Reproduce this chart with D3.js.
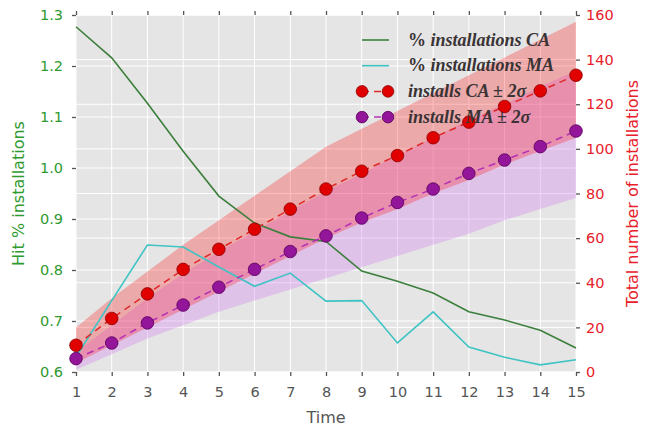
<!DOCTYPE html>
<html>
<head>
<meta charset="utf-8">
<script src="https://cdn.jsdelivr.net/npm/d3@7"></script>
<style>
  body { margin: 0; background: #fff; }
  svg { display: block; }
</style>
</head>
<body>
<svg id="chart"></svg>
<script>
// time steps
const time = [1, 2, 3, 4, 5, 6, 7, 8, 9, 10, 11, 12, 13, 14, 15];

// hit % installations (left axis)
const pctCA = [1.277, 1.216, 1.127, 1.033, 0.945, 0.892, 0.865, 0.856, 0.798, 0.778, 0.755, 0.718, 0.702, 0.682, 0.647];
const pctMA = [0.63, 0.74, 0.849, 0.845, 0.806, 0.768, 0.794, 0.739, 0.74, 0.657, 0.718, 0.649, 0.629, 0.614, 0.624];

// total installs (right axis) with +-2 sigma bands
const installsCA = [12, 24, 35, 46, 55, 64, 73, 82, 90, 97, 105, 112, 119, 126, 133];
const caUpper = [20, 33, 45, 57, 68, 79, 90, 101, 109, 117, 125, 133, 141, 149, 157];
const caLower = [4, 12, 20, 28, 36, 44, 52, 60, 67, 73, 80, 86, 93, 99, 105];
const installsMA = [6, 13, 22, 30, 38, 46, 54, 61, 69, 76, 82, 89, 95, 101, 108];
const maUpper = [9, 21, 33, 44, 54, 63, 72, 81, 89, 97, 105, 113, 120, 128, 135];
const maLower = [1, 8, 15, 21, 27, 32, 37, 42, 47, 52, 57, 62, 68, 73, 78];

const leftTicks = [0.6, 0.7, 0.8, 0.9, 1.0, 1.1, 1.2, 1.3];
const rightTicks = [0, 20, 40, 60, 80, 100, 120, 140, 160];

const W = 646, H = 431;
const margin = { top: 15, right: 70, bottom: 59, left: 76 };
const width = W - margin.left - margin.right;
const height = H - margin.top - margin.bottom;

const green = "#2f9a2f", red = "#e8202a", tickGrey = "#555";

const svg = d3.select("#chart").attr("width", W).attr("height", H)
    .style("font-family", "'DejaVu Sans', sans-serif");

const g = svg.append("g").attr("transform", `translate(${margin.left},${margin.top})`);

const x = d3.scaleLinear().domain([1, 15]).range([0, width]);
const yL = d3.scaleLinear().domain([0.6, 1.3]).range([height, 0]);
const yR = d3.scaleLinear().domain([0, 160]).range([height, 0]);

// background panel
g.append("rect").attr("width", width).attr("height", height).attr("fill", "#e5e5e5");

// gridlines
g.append("g").selectAll("line").data(time).join("line")
    .attr("x1", d => x(d)).attr("x2", d => x(d)).attr("y1", 0).attr("y2", height)
    .attr("stroke", "#fff").attr("stroke-width", 1);
g.append("g").selectAll("line").data(leftTicks).join("line")
    .attr("x1", 0).attr("x2", width).attr("y1", d => yL(d)).attr("y2", d => yL(d))
    .attr("stroke", "#fff").attr("stroke-width", 1);
g.append("g").selectAll("line").data(rightTicks).join("line")
    .attr("x1", 0).attr("x2", width).attr("y1", d => yR(d)).attr("y2", d => yR(d))
    .attr("stroke", "#fff").attr("stroke-width", 1);

// sigma bands
const band = (up, lo) => d3.area()
    .x((d, i) => x(time[i]))
    .y0((d, i) => yR(lo[i]))
    .y1((d, i) => yR(up[i]));

g.append("path").attr("d", band(maUpper, maLower)(time))
    .attr("fill", "#d070f0").attr("fill-opacity", 0.3);
g.append("path").attr("d", band(caUpper, caLower)(time))
    .attr("fill", "#ff0000").attr("fill-opacity", 0.26);

// percentage lines
const lineL = arr => d3.line().x((d, i) => x(time[i])).y(d => yL(d))(arr);
g.append("path").attr("d", lineL(pctCA)).attr("fill", "none")
    .attr("stroke", "#3c7f3c").attr("stroke-width", 1.6);
g.append("path").attr("d", lineL(pctMA)).attr("fill", "none")
    .attr("stroke", "#3fc3c3").attr("stroke-width", 1.6);

// install series: dashed line + markers
const lineR = arr => d3.line().x((d, i) => x(time[i])).y(d => yR(d))(arr);
function drawInstalls(arr, lineColor, fill, edge) {
    g.append("path").attr("d", lineR(arr)).attr("fill", "none")
        .attr("stroke", lineColor).attr("stroke-width", 1.5).attr("stroke-dasharray", "7,5");
    g.append("g").selectAll("circle").data(arr).join("circle")
        .attr("cx", (d, i) => x(time[i])).attr("cy", d => yR(d)).attr("r", 6.3)
        .attr("fill", fill).attr("stroke", edge).attr("stroke-width", 0.8);
}
drawInstalls(installsCA, "#e0282a", "#e00000", "#8a0000");
drawInstalls(installsMA, "#b52fb5", "#92159a", "#5a005a");

// axes
const xAxisB = g.append("g").attr("transform", `translate(0,${height})`)
    .call(d3.axisBottom(x).tickValues(time).tickFormat(d3.format("d")).tickSize(4).tickPadding(11));
const xAxisT = g.append("g")
    .call(d3.axisTop(x).tickValues(time).tickFormat("").tickSize(4));
const yAxisL = g.append("g")
    .call(d3.axisLeft(yL).tickValues(leftTicks).tickFormat(d3.format(".1f")).tickSize(4).tickPadding(9));
const yAxisR = g.append("g").attr("transform", `translate(${width},0)`)
    .call(d3.axisRight(yR).tickValues(rightTicks).tickSize(4).tickPadding(6));

[xAxisB, xAxisT, yAxisL, yAxisR].forEach(a => {
    a.select(".domain").remove();
    a.selectAll(".tick line").attr("stroke", tickGrey).attr("stroke-width", 1.3);
    a.selectAll("text").attr("font-size", 14.5).attr("font-family", "'DejaVu Sans', sans-serif");
});
xAxisB.selectAll("text").attr("fill", tickGrey);
yAxisL.selectAll("text").attr("fill", green);
yAxisR.selectAll("text").attr("fill", red);

// axis titles
g.append("text").attr("x", width / 2).attr("y", height + 51)
    .attr("text-anchor", "middle").attr("font-size", 16).attr("fill", tickGrey).text("Time");
g.append("text").attr("transform", "rotate(-90)")
    .attr("x", -height / 2).attr("y", -52)
    .attr("text-anchor", "middle").attr("font-size", 16).attr("fill", green).text("Hit % installations");
g.append("text").attr("transform", "rotate(-90)")
    .attr("x", -height / 2).attr("y", width + 62)
    .attr("text-anchor", "middle").attr("font-size", 16).attr("fill", red).text("Total number of installations");

// legend
const legendItems = [
    { kind: "line", color: "#3c7f3c", pre: "% ", label: "installations CA" },
    { kind: "line", color: "#3fc3c3", pre: "% ", label: "installations MA" },
    { kind: "dots", color: "#e0282a", fill: "#e00000", edge: "#8a0000", pre: "", label: "installs CA \u00b1 2\u03c3" },
    { kind: "dots", color: "#b52fb5", fill: "#92159a", edge: "#5a005a", pre: "", label: "installs MA \u00b1 2\u03c3" }
];
const legend = g.append("g").attr("transform", "translate(286,25)");
legendItems.forEach((d, i) => {
    const row = legend.append("g").attr("transform", `translate(0,${i * 25.7})`);
    if (d.kind === "line") {
        row.append("line").attr("x1", 0).attr("x2", 27).attr("y1", 0).attr("y2", 0)
            .attr("stroke", d.color).attr("stroke-width", 1.6);
    } else {
        row.append("line").attr("x1", 0).attr("x2", 26).attr("y1", 0).attr("y2", 0)
            .attr("stroke", d.color).attr("stroke-width", 1.5).attr("stroke-dasharray", "7,5");
        [0, 26].forEach(cx => row.append("circle").attr("cx", cx).attr("cy", 0).attr("r", 5.8)
            .attr("fill", d.fill).attr("stroke", d.edge).attr("stroke-width", 0.8));
    }
    const t = row.append("text").attr("x", 46).attr("y", 5.5)
        .attr("font-family", "'Liberation Serif', serif").attr("font-size", 18)
        .attr("font-weight", "bold").attr("fill", "#3a3335");
    if (d.pre) t.append("tspan").attr("font-style", "normal").text(d.pre);
    t.append("tspan").attr("font-style", "italic").text(d.label);
});
</script>
</body>
</html>
